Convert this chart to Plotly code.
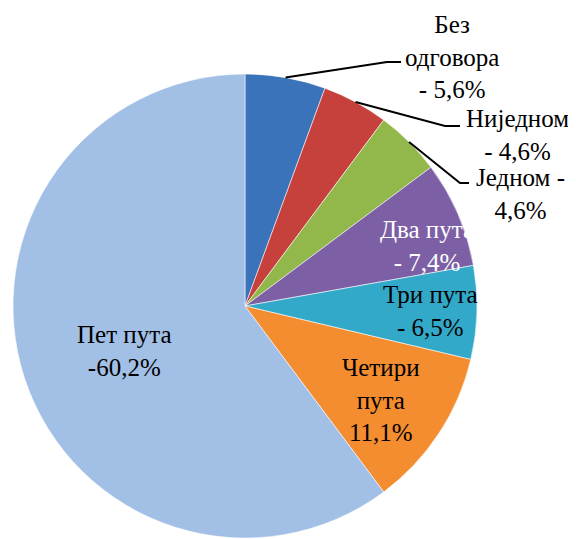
import math
import plotly.graph_objects as go

# Survey answers, clockwise from 12 o'clock
labels = ["Без одговора", "Ниједном", "Једном", "Два пута", "Три пута", "Четири пута", "Пет пута"]
values = [5.6, 4.6, 4.6, 7.4, 6.5, 11.1, 60.2]
colors = ["#3b73bb", "#c6403c", "#92b84c", "#7d5fa5", "#33a9c9", "#f48c30", "#a2bfe5"]

# how each data label is written on the chart
label_formats = [
    "Без<br>одговора<br>- {v}%",
    "Ниједном<br>- {v}%",
    "Једном -<br>{v}%",
    "Два пута<br>- {v}%",
    "Три пута<br>- {v}%",
    "Четири<br>пута<br>{v}%",
    "Пет пута<br>-{v}%",
]

W, H = 576, 539
OFF = 8  # page body margin
FW, FH = W - OFF, H - OFF
CX, CY, R = 245, 306, 232  # pie centre / radius in window px

# label placement (window px) and which ones get a leader line
label_pos = [(452, 57), (517, 135), (520, 194), (427, 246), (430, 311), (381, 400), (124, 351)]
label_color = ["black", "black", "black", "white", "black", "black", "black"]
leader_elbow = [((387, 62), (401, 62)), ((445, 126), (460, 126)), ((460, 183), (469, 183)),
                None, None, None, None]


def px(x, y):
    return (x - OFF) / FW, 1 - (y - OFF) / FH


x0, y1 = px(CX - R, CY - R)
x1, y0 = px(CX + R, CY + R)

fig = go.Figure(go.Pie(
    labels=labels,
    values=values,
    sort=False,
    direction="clockwise",
    rotation=0,
    textinfo="none",
    hoverinfo="label+percent",
    marker=dict(colors=colors, line=dict(color="rgba(255,255,255,0.55)", width=1)),
    domain=dict(x=[x0, x1], y=[y0, y1]),
    showlegend=False,
))

total = sum(values)
cum = 0
for i, v in enumerate(values):
    mid = (cum + v / 2) / total * 2 * math.pi
    cum += v
    text = label_formats[i].format(v=f"{v:.1f}".replace(".", ","))
    ax, ay = px(*label_pos[i])
    fig.add_annotation(x=ax, y=ay, xref="paper", yref="paper", text=text, showarrow=False,
                       xanchor="center", yanchor="middle", align="center",
                       font=dict(family="Liberation Serif", size=25, color=label_color[i]))
    if leader_elbow[i]:
        sx, sy = CX + R * math.sin(mid), CY - R * math.cos(mid)
        (ex, ey), (fx, fy) = leader_elbow[i]
        p = [px(sx, sy), px(ex, ey), px(fx, fy)]
        path = "M {} {} L {} {} L {} {}".format(p[0][0], p[0][1], p[1][0], p[1][1], p[2][0], p[2][1])
        fig.add_shape(type="path", path=path, xref="paper", yref="paper",
                      line=dict(color="black", width=2))

fig.update_layout(
    width=FW, height=FH,
    margin=dict(l=0, r=0, t=0, b=0),
    paper_bgcolor="white",
    plot_bgcolor="white",
)

fig.write_html("out.html")
